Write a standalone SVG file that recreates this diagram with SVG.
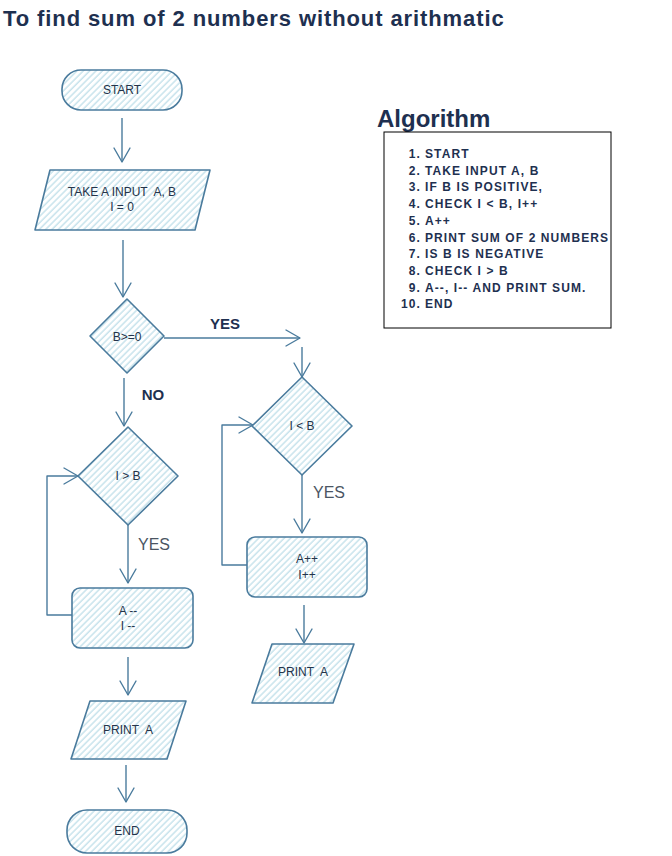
<svg xmlns="http://www.w3.org/2000/svg" width="672" height="856" viewBox="0 0 672 856">
<style>
.node{fill:url(#hatch);stroke:#4a7b9d;stroke-width:1.6;stroke-linejoin:round}
.lbl{font-family:"Liberation Sans",Arial,sans-serif;font-size:12px;fill:#24344a;text-anchor:middle;white-space:pre}
.conn{fill:none;stroke:#4a7b9d;stroke-width:1.4;stroke-linejoin:round}
.bold{font-family:"Liberation Sans",Arial,sans-serif;font-weight:bold;fill:#1e3050}
.edge{font-family:"Liberation Sans",Arial,sans-serif;font-size:16px;fill:#4b5563;text-anchor:middle}
.alg{font-family:"Liberation Sans",Arial,sans-serif;font-weight:bold;font-size:12px;letter-spacing:1.1px;fill:#1e3050;white-space:pre}
</style>
<defs>
<pattern id="hatch" patternUnits="userSpaceOnUse" width="4.5" height="4.5" patternTransform="rotate(45)">
<rect width="4.5" height="4.5" fill="#ffffff"/>
<line x1="1" y1="0" x2="1" y2="4.5" stroke="#b3d9e5" stroke-width="1.1"/>
</pattern>
<marker id="arr" markerUnits="userSpaceOnUse" viewBox="-15 -10 17 20" markerWidth="17" markerHeight="20" refX="0" refY="0" orient="auto">
<path d="M-14,-8 L0,0 L-14,8" fill="none" stroke="#4a7b9d" stroke-width="1.4" stroke-linecap="round" stroke-linejoin="round"/>
</marker>
</defs>
<rect width="672" height="856" fill="#ffffff"/>
<text x="3" y="26" class="bold" font-size="22" letter-spacing="0.9">To find sum of 2 numbers without arithmatic</text>

<g id="connectors">
<path class="conn" d="M122,118 L122,162" marker-end="url(#arr)"/>
<path class="conn" d="M123,240 L123,297" marker-end="url(#arr)"/>
<path class="conn" d="M164,338 L300,338" marker-end="url(#arr)"/>
<path class="conn" d="M302,347 L302,377" marker-end="url(#arr)"/>
<path class="conn" d="M124,378 L124,426" marker-end="url(#arr)"/>
<path class="conn" d="M128,525 L128,583" marker-end="url(#arr)"/>
<path class="conn" d="M72,615 L47,615 L47,476 L78,476" marker-end="url(#arr)"/>
<path class="conn" d="M128,657 L128,695" marker-end="url(#arr)"/>
<path class="conn" d="M126,765 L126,802" marker-end="url(#arr)"/>
<path class="conn" d="M302,475 L302,533" marker-end="url(#arr)"/>
<path class="conn" d="M248,565 L222,565 L222,425 L253,425" marker-end="url(#arr)"/>
<path class="conn" d="M304,605 L304,643" marker-end="url(#arr)"/>
<text x="225" y="329" class="bold" font-size="15" text-anchor="middle">YES</text>
<text x="153" y="400" class="bold" font-size="15" text-anchor="middle">NO</text>
<text x="154" y="550" class="edge">YES</text>
<text x="329" y="498" class="edge">YES</text>
</g>

<g id="start">
<rect class="node" x="62" y="70" width="120" height="40" rx="19"/>
<text class="lbl" x="122" y="94">START</text>
</g>
<g id="input">
<path class="node" d="M50,170 L210,170 L195,230 L35,230 Z"/>
<text class="lbl" x="122" y="196" font-size="12.5">TAKE A INPUT  A, B</text>
<text class="lbl" x="122" y="211" font-size="12.5">I = 0</text>
</g>
<g id="check-b">
<path class="node" d="M127,299 L164,336 L127,373 L90,336 Z"/>
<text class="lbl" x="127" y="341" font-size="13" fill="#4b5563">B&gt;=0</text>
</g>
<g id="check-i-lt-b">
<path class="node" d="M302,377 L352,426 L302,475 L252,426 Z"/>
<text class="lbl" x="302" y="430">I &lt; B</text>
</g>
<g id="check-i-gt-b">
<path class="node" d="M128,427 L178,476 L128,525 L78,476 Z"/>
<text class="lbl" x="128" y="480">I &gt; B</text>
</g>
<g id="decrement">
<rect class="node" x="72" y="588" width="121" height="60" rx="8"/>
<text class="lbl" x="128" y="615">A --</text>
<text class="lbl" x="128" y="630">I --</text>
</g>
<g id="increment">
<rect class="node" x="247" y="537" width="120" height="60" rx="8"/>
<text class="lbl" x="307" y="563">A++</text>
<text class="lbl" x="307" y="579">I++</text>
</g>
<g id="print-left">
<path class="node" d="M90,701 L186,701 L167,759 L71,759 Z"/>
<text class="lbl" x="128" y="734">PRINT  A</text>
</g>
<g id="print-right">
<path class="node" d="M272,644 L354,644 L333,703 L252,703 Z"/>
<text class="lbl" x="303" y="676">PRINT  A</text>
</g>
<g id="end">
<rect class="node" x="67" y="810" width="120" height="43" rx="20"/>
<text class="lbl" x="127" y="835">END</text>
</g>

<g id="algorithm">
<text x="377" y="127" class="bold" font-size="24">Algorithm</text>
<rect x="384" y="132" width="227" height="196" fill="none" stroke="#000000" stroke-width="1"/>
<g class="alg">
<text x="421" y="158" text-anchor="end">1.</text><text x="425" y="158">START</text>
<text x="421" y="175" text-anchor="end">2.</text><text x="425" y="175">TAKE INPUT A, B</text>
<text x="421" y="191" text-anchor="end">3.</text><text x="425" y="191">IF B IS POSITIVE,</text>
<text x="421" y="208" text-anchor="end">4.</text><text x="425" y="208">CHECK I &lt; B, I++</text>
<text x="421" y="225" text-anchor="end">5.</text><text x="425" y="225">A++</text>
<text x="421" y="242" text-anchor="end">6.</text><text x="425" y="242">PRINT SUM OF 2 NUMBERS</text>
<text x="421" y="258" text-anchor="end">7.</text><text x="425" y="258">IS B IS NEGATIVE</text>
<text x="421" y="275" text-anchor="end">8.</text><text x="425" y="275">CHECK I &gt; B</text>
<text x="421" y="292" text-anchor="end">9.</text><text x="425" y="292">A--, I--  AND PRINT SUM.</text>
<text x="421" y="308" text-anchor="end">10.</text><text x="425" y="308">END</text>
</g>
</g>
</svg>
